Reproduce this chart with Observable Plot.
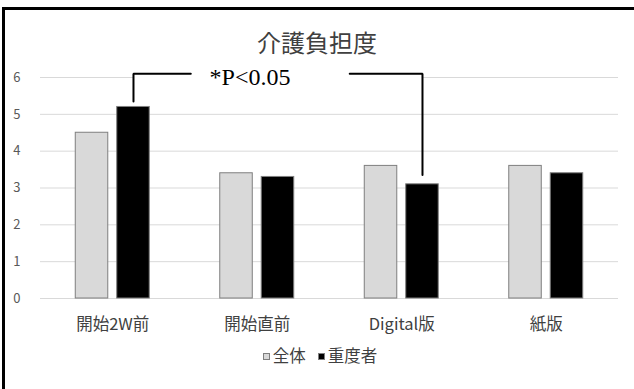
<!DOCTYPE html>
<html>
<head>
<meta charset="utf-8">
<script src="https://cdn.jsdelivr.net/npm/d3@7"></script>
<script src="https://cdn.jsdelivr.net/npm/@observablehq/plot@0.6"></script>
<style>
  html, body { margin: 0; padding: 0; background: #fff; overflow: hidden; }
  #chart { position: relative; width: 634px; height: 389px; font-family: "Noto Sans CJK JP", "Noto Sans", sans-serif; }
  #frame { position: absolute; left: 2px; top: 7px; right: -10px; bottom: -10px;
           border-left: 3px solid #000; border-top: 3px solid #000; pointer-events: none; }
  #title { height: 60px; box-sizing: border-box; padding-top: 28px; text-align: center;
           font-size: 24px; line-height: 28px; color: #404040; }
  #plot svg { display: block; }
  #legend { box-sizing: border-box; padding-top: 3px; text-align: center; font-size: 16.5px;
            line-height: 18px; color: #404040; padding-left: 6px; }
  #legend .item { display: inline-block; margin: 0 6px; }
  #legend .sw { display: inline-block; width: 7px; height: 7px; margin-right: 3px;
                vertical-align: 2px; box-sizing: border-box; border: 1px solid #7f7f7f; }
</style>
</head>
<body>
<div id="chart">
  <div id="title"></div>
  <div id="plot"></div>
  <div id="legend"></div>
  <div id="frame"></div>
</div>
<script>
// Care-burden scores per period, for all users and for the severe group
const titleText = "介護負担度";
const categories = ["開始2W前", "開始直前", "Digital版", "紙版"];
const seriesNames = ["全体", "重度者"];
const seriesColors = ["#d9d9d9", "#000000"];
const overall = [4.5, 3.4, 3.6, 3.6];
const severe = [5.2, 3.3, 3.1, 3.4];
const yTicks = [0, 1, 2, 3, 4, 5, 6];

// Significance annotation between the severe-group bars of two periods
const sigLabel = "*P<0.05";
const sigPair = ["開始2W前", "Digital版"];
const sigBracketTop = 6.1;
const sigBracketEnds = [5.35, 3.35];
const sigGap = [0.54, 1.64];     // break in the bracket around the label (category units)
const sigLabelX = 0.95;
const sigLabelY = 6.0;

// Bar layout within one category slot (category units)
const BAR = 0.225;
const GAP = 0.062;
const barX1 = (i, s) => s === 0 ? i - GAP / 2 - BAR : i + GAP / 2;

const rows = categories.flatMap((c, i) => [
  {cat: c, i, s: 0, series: seriesNames[0], value: overall[i]},
  {cat: c, i, s: 1, series: seriesNames[1], value: severe[i]}
]);

const c0 = categories.indexOf(sigPair[0]) + GAP / 2 + BAR / 2;
const c1 = categories.indexOf(sigPair[1]) + GAP / 2 + BAR / 2;
const bracket = [
  {side: "L", x: c0, y: sigBracketEnds[0]},
  {side: "L", x: c0, y: sigBracketTop},
  {side: "L", x: sigGap[0], y: sigBracketTop},
  {side: "R", x: sigGap[1], y: sigBracketTop},
  {side: "R", x: c1, y: sigBracketTop},
  {side: "R", x: c1, y: sigBracketEnds[1]}
];

document.getElementById("title").textContent = titleText;

const chart = Plot.plot({
  width: 634,
  height: 283,
  marginTop: 17,
  marginBottom: 45,
  marginLeft: 40,
  marginRight: 16,
  style: {fontFamily: '"Noto Sans CJK JP", "Noto Sans", sans-serif', background: "#fff", overflow: "visible"},
  x: {domain: [-0.5, categories.length - 0.5], axis: null},
  y: {domain: [0, 6], axis: null},
  color: {domain: seriesNames, range: seriesColors},
  marks: [
    Plot.gridY(yTicks, {stroke: "#d9d9d9", strokeOpacity: 1, strokeWidth: 1}),
    // white label box behind the annotation
    Plot.rect([sigLabel], {x1: () => c0, x2: () => c1, y1: () => 5.6, y2: () => sigBracketTop, fill: "#fff"}),
    Plot.rect(rows, {
      x1: d => barX1(d.i, d.s),
      x2: d => barX1(d.i, d.s) + BAR,
      y1: () => 0,
      y2: "value",
      fill: "series",
      stroke: "#7f7f7f",
      strokeWidth: 1
    }),
    Plot.axisY({ticks: yTicks, tickFormat: d3.format("d"), tickSize: 0, tickPadding: 20, fontSize: 13, fill: "#595959", label: null}),
    Plot.axisX({
      ticks: categories.map((_, i) => i),
      tickFormat: i => categories[i],
      tickSize: 0,
      tickPadding: 20,
      fontSize: 16.5,
      fill: "#404040",
      label: null
    }),
    Plot.line(bracket, {x: "x", y: "y", z: "side", stroke: "#000", strokeWidth: 2, strokeLinejoin: "miter"}),
    Plot.text([sigLabel], {
      x: () => sigLabelX,
      y: () => sigLabelY,
      text: d => d,
      fontFamily: '"Liberation Serif", serif',
      fontSize: 24,
      fill: "#000",
      lineAnchor: "middle"
    })
  ]
});
document.getElementById("plot").appendChild(chart);

// Legend below the plot
const legend = document.getElementById("legend");
seriesNames.forEach((name, k) => {
  const item = document.createElement("span");
  item.className = "item";
  const sw = document.createElement("span");
  sw.className = "sw";
  sw.style.background = seriesColors[k];
  item.appendChild(sw);
  item.appendChild(document.createTextNode(name));
  legend.appendChild(item);
});
</script>
</body>
</html>
